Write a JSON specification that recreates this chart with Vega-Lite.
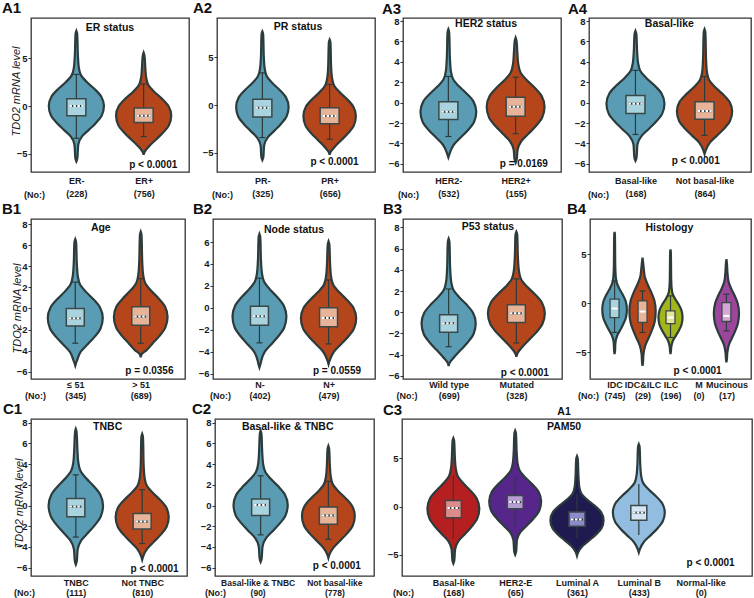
{
"$schema": "https://vega.github.io/schema/vega-lite/v6.json",
"padding": {"left": 1, "top": 0, "right": 0, "bottom": 0},
"datasets": {
"v": [
{"p":"A1","g":1,"y":-5.8,"lo":1,"hi":1},{"p":"A1","g":1,"y":-5.5,"lo":0.986,"hi":1.014},{"p":"A1","g":1,"y":-4,"lo":0.971,"hi":1.029},{"p":"A1","g":1,"y":-3.2,"lo":0.918,"hi":1.082},{"p":"A1","g":1,"y":-2.5,"lo":0.815,"hi":1.185},{"p":"A1","g":1,"y":-1.8,"lo":0.713,"hi":1.287},{"p":"A1","g":1,"y":-1,"lo":0.623,"hi":1.377},{"p":"A1","g":1,"y":0,"lo":0.59,"hi":1.41},{"p":"A1","g":1,"y":1,"lo":0.631,"hi":1.369},{"p":"A1","g":1,"y":1.8,"lo":0.733,"hi":1.267},{"p":"A1","g":1,"y":2.5,"lo":0.844,"hi":1.156},{"p":"A1","g":1,"y":3.2,"lo":0.93,"hi":1.07},{"p":"A1","g":1,"y":4,"lo":0.963,"hi":1.037},{"p":"A1","g":1,"y":5,"lo":0.975,"hi":1.025},{"p":"A1","g":1,"y":7.56,"lo":0.988,"hi":1.012},{"p":"A1","g":1,"y":7.86,"lo":1,"hi":1},
{"p":"A1","g":2,"y":-5.1,"lo":2,"hi":2},{"p":"A1","g":2,"y":-4.8,"lo":1.986,"hi":2.014},{"p":"A1","g":2,"y":-4.2,"lo":1.918,"hi":2.082},{"p":"A1","g":2,"y":-3.5,"lo":1.815,"hi":2.185},{"p":"A1","g":2,"y":-2.8,"lo":1.713,"hi":2.287},{"p":"A1","g":2,"y":-2,"lo":1.623,"hi":2.377},{"p":"A1","g":2,"y":-1,"lo":1.59,"hi":2.41},{"p":"A1","g":2,"y":0,"lo":1.631,"hi":2.369},{"p":"A1","g":2,"y":0.8,"lo":1.733,"hi":2.267},{"p":"A1","g":2,"y":1.5,"lo":1.844,"hi":2.156},{"p":"A1","g":2,"y":2.2,"lo":1.93,"hi":2.07},{"p":"A1","g":2,"y":3,"lo":1.963,"hi":2.037},{"p":"A1","g":2,"y":4,"lo":1.975,"hi":2.025},{"p":"A1","g":2,"y":5.28,"lo":1.988,"hi":2.012},{"p":"A1","g":2,"y":5.58,"lo":2,"hi":2},
{"p":"A2","g":1,"y":-5.76,"lo":1,"hi":1},{"p":"A2","g":1,"y":-5.46,"lo":0.986,"hi":1.014},{"p":"A2","g":1,"y":-4.2,"lo":0.973,"hi":1.027},{"p":"A2","g":1,"y":-3.4,"lo":0.922,"hi":1.078},{"p":"A2","g":1,"y":-2.7,"lo":0.824,"hi":1.176},{"p":"A2","g":1,"y":-2,"lo":0.727,"hi":1.273},{"p":"A2","g":1,"y":-1.2,"lo":0.641,"hi":1.359},{"p":"A2","g":1,"y":-0.2,"lo":0.61,"hi":1.39},{"p":"A2","g":1,"y":0.8,"lo":0.649,"hi":1.351},{"p":"A2","g":1,"y":1.6,"lo":0.746,"hi":1.254},{"p":"A2","g":1,"y":2.3,"lo":0.852,"hi":1.148},{"p":"A2","g":1,"y":3,"lo":0.934,"hi":1.066},{"p":"A2","g":1,"y":3.8,"lo":0.965,"hi":1.035},{"p":"A2","g":1,"y":4.8,"lo":0.977,"hi":1.023},{"p":"A2","g":1,"y":7.4,"lo":0.988,"hi":1.012},{"p":"A2","g":1,"y":7.7,"lo":1,"hi":1},
{"p":"A2","g":2,"y":-5.2,"lo":2,"hi":2},{"p":"A2","g":2,"y":-4.9,"lo":1.986,"hi":2.014},{"p":"A2","g":2,"y":-4.35,"lo":1.922,"hi":2.078},{"p":"A2","g":2,"y":-3.65,"lo":1.824,"hi":2.176},{"p":"A2","g":2,"y":-2.95,"lo":1.727,"hi":2.273},{"p":"A2","g":2,"y":-2.15,"lo":1.641,"hi":2.359},{"p":"A2","g":2,"y":-1.15,"lo":1.61,"hi":2.39},{"p":"A2","g":2,"y":-0.15,"lo":1.649,"hi":2.351},{"p":"A2","g":2,"y":0.65,"lo":1.746,"hi":2.254},{"p":"A2","g":2,"y":1.35,"lo":1.852,"hi":2.148},{"p":"A2","g":2,"y":2.05,"lo":1.934,"hi":2.066},{"p":"A2","g":2,"y":2.85,"lo":1.965,"hi":2.035},{"p":"A2","g":2,"y":3.85,"lo":1.977,"hi":2.023},{"p":"A2","g":2,"y":6.54,"lo":1.988,"hi":2.012},{"p":"A2","g":2,"y":6.84,"lo":2,"hi":2},
{"p":"A3","g":1,"y":-5.37,"lo":1,"hi":1},{"p":"A3","g":1,"y":-5.07,"lo":0.985,"hi":1.015},{"p":"A3","g":1,"y":-4.1,"lo":0.917,"hi":1.083},{"p":"A3","g":1,"y":-3.4,"lo":0.813,"hi":1.187},{"p":"A3","g":1,"y":-2.7,"lo":0.71,"hi":1.29},{"p":"A3","g":1,"y":-1.9,"lo":0.618,"hi":1.382},{"p":"A3","g":1,"y":-0.9,"lo":0.585,"hi":1.415},{"p":"A3","g":1,"y":0.1,"lo":0.626,"hi":1.374},{"p":"A3","g":1,"y":0.9,"lo":0.73,"hi":1.27},{"p":"A3","g":1,"y":1.6,"lo":0.842,"hi":1.158},{"p":"A3","g":1,"y":2.3,"lo":0.929,"hi":1.071},{"p":"A3","g":1,"y":3.1,"lo":0.963,"hi":1.037},{"p":"A3","g":1,"y":4.1,"lo":0.975,"hi":1.025},{"p":"A3","g":1,"y":6.9,"lo":0.988,"hi":1.012},{"p":"A3","g":1,"y":7.2,"lo":1,"hi":1},
{"p":"A3","g":2,"y":-5.9,"lo":2,"hi":2},{"p":"A3","g":2,"y":-5.6,"lo":1.985,"hi":2.015},{"p":"A3","g":2,"y":-4.6,"lo":1.97,"hi":2.03},{"p":"A3","g":2,"y":-3.76,"lo":1.914,"hi":2.086},{"p":"A3","g":2,"y":-3.03,"lo":1.806,"hi":2.194},{"p":"A3","g":2,"y":-2.29,"lo":1.699,"hi":2.301},{"p":"A3","g":2,"y":-1.45,"lo":1.604,"hi":2.396},{"p":"A3","g":2,"y":-0.4,"lo":1.57,"hi":2.43},{"p":"A3","g":2,"y":0.65,"lo":1.613,"hi":2.387},{"p":"A3","g":2,"y":1.49,"lo":1.72,"hi":2.28},{"p":"A3","g":2,"y":2.23,"lo":1.837,"hi":2.163},{"p":"A3","g":2,"y":2.96,"lo":1.927,"hi":2.073},{"p":"A3","g":2,"y":3.8,"lo":1.961,"hi":2.039},{"p":"A3","g":2,"y":4.85,"lo":1.974,"hi":2.026},{"p":"A3","g":2,"y":6.08,"lo":1.987,"hi":2.013},{"p":"A3","g":2,"y":6.38,"lo":2,"hi":2},
{"p":"A4","g":1,"y":-5.7,"lo":1,"hi":1},{"p":"A4","g":1,"y":-5.4,"lo":0.985,"hi":1.015},{"p":"A4","g":1,"y":-4.1,"lo":0.971,"hi":1.029},{"p":"A4","g":1,"y":-3.3,"lo":0.916,"hi":1.084},{"p":"A4","g":1,"y":-2.6,"lo":0.811,"hi":1.189},{"p":"A4","g":1,"y":-1.9,"lo":0.706,"hi":1.294},{"p":"A4","g":1,"y":-1.1,"lo":0.614,"hi":1.386},{"p":"A4","g":1,"y":-0.1,"lo":0.58,"hi":1.42},{"p":"A4","g":1,"y":0.9,"lo":0.622,"hi":1.378},{"p":"A4","g":1,"y":1.7,"lo":0.727,"hi":1.273},{"p":"A4","g":1,"y":2.4,"lo":0.84,"hi":1.16},{"p":"A4","g":1,"y":3.1,"lo":0.929,"hi":1.071},{"p":"A4","g":1,"y":3.9,"lo":0.962,"hi":1.038},{"p":"A4","g":1,"y":4.9,"lo":0.975,"hi":1.025},{"p":"A4","g":1,"y":6.74,"lo":0.987,"hi":1.013},{"p":"A4","g":1,"y":7.04,"lo":1,"hi":1},
{"p":"A4","g":2,"y":-5.04,"lo":2,"hi":2},{"p":"A4","g":2,"y":-4.74,"lo":1.986,"hi":2.014},{"p":"A4","g":2,"y":-3.89,"lo":1.92,"hi":2.08},{"p":"A4","g":2,"y":-3.23,"lo":1.82,"hi":2.18},{"p":"A4","g":2,"y":-2.56,"lo":1.72,"hi":2.28},{"p":"A4","g":2,"y":-1.8,"lo":1.632,"hi":2.368},{"p":"A4","g":2,"y":-0.85,"lo":1.6,"hi":2.4},{"p":"A4","g":2,"y":0.1,"lo":1.64,"hi":2.36},{"p":"A4","g":2,"y":0.86,"lo":1.74,"hi":2.26},{"p":"A4","g":2,"y":1.53,"lo":1.848,"hi":2.152},{"p":"A4","g":2,"y":2.19,"lo":1.932,"hi":2.068},{"p":"A4","g":2,"y":2.95,"lo":1.964,"hi":2.036},{"p":"A4","g":2,"y":3.9,"lo":1.976,"hi":2.024},{"p":"A4","g":2,"y":6.9,"lo":1.988,"hi":2.012},{"p":"A4","g":2,"y":7.2,"lo":2,"hi":2},
{"p":"B1","g":1,"y":-5.43,"lo":1,"hi":1},{"p":"B1","g":1,"y":-5.13,"lo":0.985,"hi":1.015},{"p":"B1","g":1,"y":-4.9,"lo":0.971,"hi":1.029},{"p":"B1","g":1,"y":-4.1,"lo":0.916,"hi":1.084},{"p":"B1","g":1,"y":-3.4,"lo":0.811,"hi":1.189},{"p":"B1","g":1,"y":-2.7,"lo":0.706,"hi":1.294},{"p":"B1","g":1,"y":-1.9,"lo":0.614,"hi":1.386},{"p":"B1","g":1,"y":-0.9,"lo":0.58,"hi":1.42},{"p":"B1","g":1,"y":0.1,"lo":0.622,"hi":1.378},{"p":"B1","g":1,"y":0.9,"lo":0.727,"hi":1.273},{"p":"B1","g":1,"y":1.6,"lo":0.84,"hi":1.16},{"p":"B1","g":1,"y":2.3,"lo":0.929,"hi":1.071},{"p":"B1","g":1,"y":3.1,"lo":0.962,"hi":1.038},{"p":"B1","g":1,"y":4.1,"lo":0.975,"hi":1.025},{"p":"B1","g":1,"y":6.28,"lo":0.987,"hi":1.013},{"p":"B1","g":1,"y":6.58,"lo":1,"hi":1},
{"p":"B1","g":2,"y":-4.64,"lo":2,"hi":2},{"p":"B1","g":2,"y":-4.34,"lo":1.986,"hi":2.014},{"p":"B1","g":2,"y":-4,"lo":1.918,"hi":2.082},{"p":"B1","g":2,"y":-3.3,"lo":1.815,"hi":2.185},{"p":"B1","g":2,"y":-2.6,"lo":1.713,"hi":2.287},{"p":"B1","g":2,"y":-1.8,"lo":1.623,"hi":2.377},{"p":"B1","g":2,"y":-0.8,"lo":1.59,"hi":2.41},{"p":"B1","g":2,"y":0.2,"lo":1.631,"hi":2.369},{"p":"B1","g":2,"y":1,"lo":1.733,"hi":2.267},{"p":"B1","g":2,"y":1.7,"lo":1.844,"hi":2.156},{"p":"B1","g":2,"y":2.4,"lo":1.93,"hi":2.07},{"p":"B1","g":2,"y":3.2,"lo":1.963,"hi":2.037},{"p":"B1","g":2,"y":4.2,"lo":1.975,"hi":2.025},{"p":"B1","g":2,"y":7,"lo":1.988,"hi":2.012},{"p":"B1","g":2,"y":7.3,"lo":2,"hi":2},
{"p":"B2","g":1,"y":-5.45,"lo":1,"hi":1},{"p":"B2","g":1,"y":-5.15,"lo":0.986,"hi":1.014},{"p":"B2","g":1,"y":-4.8,"lo":0.973,"hi":1.027},{"p":"B2","g":1,"y":-4,"lo":0.922,"hi":1.078},{"p":"B2","g":1,"y":-3.3,"lo":0.824,"hi":1.176},{"p":"B2","g":1,"y":-2.6,"lo":0.727,"hi":1.273},{"p":"B2","g":1,"y":-1.8,"lo":0.641,"hi":1.359},{"p":"B2","g":1,"y":-0.8,"lo":0.61,"hi":1.39},{"p":"B2","g":1,"y":0.2,"lo":0.649,"hi":1.351},{"p":"B2","g":1,"y":1,"lo":0.746,"hi":1.254},{"p":"B2","g":1,"y":1.7,"lo":0.852,"hi":1.148},{"p":"B2","g":1,"y":2.4,"lo":0.934,"hi":1.066},{"p":"B2","g":1,"y":3.2,"lo":0.965,"hi":1.035},{"p":"B2","g":1,"y":4.2,"lo":0.977,"hi":1.023},{"p":"B2","g":1,"y":6.45,"lo":0.988,"hi":1.012},{"p":"B2","g":1,"y":6.75,"lo":1,"hi":1},
{"p":"B2","g":2,"y":-5.15,"lo":2,"hi":2},{"p":"B2","g":2,"y":-4.85,"lo":1.986,"hi":2.014},{"p":"B2","g":2,"y":-3.99,"lo":1.92,"hi":2.08},{"p":"B2","g":2,"y":-3.33,"lo":1.82,"hi":2.18},{"p":"B2","g":2,"y":-2.66,"lo":1.72,"hi":2.28},{"p":"B2","g":2,"y":-1.9,"lo":1.632,"hi":2.368},{"p":"B2","g":2,"y":-0.95,"lo":1.6,"hi":2.4},{"p":"B2","g":2,"y":0,"lo":1.64,"hi":2.36},{"p":"B2","g":2,"y":0.76,"lo":1.74,"hi":2.26},{"p":"B2","g":2,"y":1.43,"lo":1.848,"hi":2.152},{"p":"B2","g":2,"y":2.09,"lo":1.932,"hi":2.068},{"p":"B2","g":2,"y":2.85,"lo":1.964,"hi":2.036},{"p":"B2","g":2,"y":3.8,"lo":1.976,"hi":2.024},{"p":"B2","g":2,"y":5.77,"lo":1.988,"hi":2.012},{"p":"B2","g":2,"y":6.07,"lo":2,"hi":2},
{"p":"B3","g":1,"y":-5.08,"lo":1,"hi":1},{"p":"B3","g":1,"y":-4.78,"lo":0.986,"hi":1.014},{"p":"B3","g":1,"y":-4.25,"lo":0.92,"hi":1.08},{"p":"B3","g":1,"y":-3.55,"lo":0.82,"hi":1.18},{"p":"B3","g":1,"y":-2.85,"lo":0.72,"hi":1.28},{"p":"B3","g":1,"y":-2.05,"lo":0.632,"hi":1.368},{"p":"B3","g":1,"y":-1.05,"lo":0.6,"hi":1.4},{"p":"B3","g":1,"y":-0.05,"lo":0.64,"hi":1.36},{"p":"B3","g":1,"y":0.75,"lo":0.74,"hi":1.26},{"p":"B3","g":1,"y":1.45,"lo":0.848,"hi":1.152},{"p":"B3","g":1,"y":2.15,"lo":0.932,"hi":1.068},{"p":"B3","g":1,"y":2.95,"lo":0.964,"hi":1.036},{"p":"B3","g":1,"y":3.95,"lo":0.976,"hi":1.024},{"p":"B3","g":1,"y":6.65,"lo":0.988,"hi":1.012},{"p":"B3","g":1,"y":6.95,"lo":1,"hi":1},
{"p":"B3","g":2,"y":-4.2,"lo":2,"hi":2},{"p":"B3","g":2,"y":-3.9,"lo":1.985,"hi":2.015},{"p":"B3","g":2,"y":-3.3,"lo":1.916,"hi":2.084},{"p":"B3","g":2,"y":-2.6,"lo":1.811,"hi":2.189},{"p":"B3","g":2,"y":-1.9,"lo":1.706,"hi":2.294},{"p":"B3","g":2,"y":-1.1,"lo":1.614,"hi":2.386},{"p":"B3","g":2,"y":-0.1,"lo":1.58,"hi":2.42},{"p":"B3","g":2,"y":0.9,"lo":1.622,"hi":2.378},{"p":"B3","g":2,"y":1.7,"lo":1.727,"hi":2.273},{"p":"B3","g":2,"y":2.4,"lo":1.84,"hi":2.16},{"p":"B3","g":2,"y":3.1,"lo":1.929,"hi":2.071},{"p":"B3","g":2,"y":3.9,"lo":1.962,"hi":2.038},{"p":"B3","g":2,"y":4.9,"lo":1.975,"hi":2.025},{"p":"B3","g":2,"y":7.3,"lo":1.987,"hi":2.013},{"p":"B3","g":2,"y":7.6,"lo":2,"hi":2},
{"p":"B4","g":1,"y":-5.17,"lo":1,"hi":1},{"p":"B4","g":1,"y":-4.87,"lo":0.985,"hi":1.015},{"p":"B4","g":1,"y":-4,"lo":0.969,"hi":1.031},{"p":"B4","g":1,"y":-3.32,"lo":0.912,"hi":1.088},{"p":"B4","g":1,"y":-2.73,"lo":0.802,"hi":1.198},{"p":"B4","g":1,"y":-2.13,"lo":0.692,"hi":1.308},{"p":"B4","g":1,"y":-1.45,"lo":0.595,"hi":1.405},{"p":"B4","g":1,"y":-0.6,"lo":0.56,"hi":1.44},{"p":"B4","g":1,"y":0.25,"lo":0.604,"hi":1.396},{"p":"B4","g":1,"y":0.93,"lo":0.714,"hi":1.286},{"p":"B4","g":1,"y":1.53,"lo":0.833,"hi":1.167},{"p":"B4","g":1,"y":2.12,"lo":0.925,"hi":1.075},{"p":"B4","g":1,"y":2.8,"lo":0.96,"hi":1.04},{"p":"B4","g":1,"y":3.65,"lo":0.974,"hi":1.026},{"p":"B4","g":1,"y":6.97,"lo":0.987,"hi":1.013},{"p":"B4","g":1,"y":7.27,"lo":1,"hi":1},
{"p":"B4","g":2,"y":-6.35,"lo":2,"hi":2},{"p":"B4","g":2,"y":-6.05,"lo":1.984,"hi":2.016},{"p":"B4","g":2,"y":-5.2,"lo":1.967,"hi":2.033},{"p":"B4","g":2,"y":-4.32,"lo":1.906,"hi":2.094},{"p":"B4","g":2,"y":-3.55,"lo":1.788,"hi":2.212},{"p":"B4","g":2,"y":-2.78,"lo":1.671,"hi":2.329},{"p":"B4","g":2,"y":-1.9,"lo":1.568,"hi":2.432},{"p":"B4","g":2,"y":-0.8,"lo":1.53,"hi":2.47},{"p":"B4","g":2,"y":0.3,"lo":1.577,"hi":2.423},{"p":"B4","g":2,"y":1.18,"lo":1.694,"hi":2.306},{"p":"B4","g":2,"y":1.95,"lo":1.821,"hi":2.179},{"p":"B4","g":2,"y":2.72,"lo":1.92,"hi":2.08},{"p":"B4","g":2,"y":3.6,"lo":1.958,"hi":2.042},{"p":"B4","g":2,"y":4.37,"lo":1.986,"hi":2.014},{"p":"B4","g":2,"y":4.67,"lo":2,"hi":2},
{"p":"B4","g":3,"y":-5.17,"lo":3,"hi":3},{"p":"B4","g":3,"y":-4.87,"lo":2.985,"hi":3.015},{"p":"B4","g":3,"y":-4.4,"lo":2.97,"hi":3.03},{"p":"B4","g":3,"y":-3.8,"lo":2.914,"hi":3.086},{"p":"B4","g":3,"y":-3.28,"lo":2.806,"hi":3.194},{"p":"B4","g":3,"y":-2.75,"lo":2.699,"hi":3.301},{"p":"B4","g":3,"y":-2.15,"lo":2.604,"hi":3.396},{"p":"B4","g":3,"y":-1.4,"lo":2.57,"hi":3.43},{"p":"B4","g":3,"y":-0.65,"lo":2.613,"hi":3.387},{"p":"B4","g":3,"y":-0.05,"lo":2.72,"hi":3.28},{"p":"B4","g":3,"y":0.48,"lo":2.837,"hi":3.163},{"p":"B4","g":3,"y":1,"lo":2.927,"hi":3.073},{"p":"B4","g":3,"y":1.6,"lo":2.961,"hi":3.039},{"p":"B4","g":3,"y":2.35,"lo":2.974,"hi":3.026},{"p":"B4","g":3,"y":5.2,"lo":2.987,"hi":3.013},{"p":"B4","g":3,"y":5.5,"lo":3,"hi":3},
{"p":"B4","g":5,"y":-6,"lo":5,"hi":5},{"p":"B4","g":5,"y":-5.7,"lo":4.984,"hi":5.016},{"p":"B4","g":5,"y":-5,"lo":4.968,"hi":5.032},{"p":"B4","g":5,"y":-4.2,"lo":4.91,"hi":5.09},{"p":"B4","g":5,"y":-3.5,"lo":4.797,"hi":5.203},{"p":"B4","g":5,"y":-2.8,"lo":4.685,"hi":5.315},{"p":"B4","g":5,"y":-2,"lo":4.586,"hi":5.414},{"p":"B4","g":5,"y":-1,"lo":4.55,"hi":5.45},{"p":"B4","g":5,"y":0,"lo":4.595,"hi":5.405},{"p":"B4","g":5,"y":0.8,"lo":4.707,"hi":5.293},{"p":"B4","g":5,"y":1.5,"lo":4.829,"hi":5.171},{"p":"B4","g":5,"y":2.2,"lo":4.923,"hi":5.077},{"p":"B4","g":5,"y":3,"lo":4.959,"hi":5.041},{"p":"B4","g":5,"y":4.2,"lo":4.986,"hi":5.014},{"p":"B4","g":5,"y":4.5,"lo":5,"hi":5},
{"p":"C1","g":1,"y":-5.69,"lo":1,"hi":1},{"p":"C1","g":1,"y":-5.39,"lo":0.986,"hi":1.014},{"p":"C1","g":1,"y":-4.2,"lo":0.971,"hi":1.029},{"p":"C1","g":1,"y":-3.36,"lo":0.918,"hi":1.082},{"p":"C1","g":1,"y":-2.63,"lo":0.815,"hi":1.185},{"p":"C1","g":1,"y":-1.89,"lo":0.713,"hi":1.287},{"p":"C1","g":1,"y":-1.05,"lo":0.623,"hi":1.377},{"p":"C1","g":1,"y":0,"lo":0.59,"hi":1.41},{"p":"C1","g":1,"y":1.05,"lo":0.631,"hi":1.369},{"p":"C1","g":1,"y":1.89,"lo":0.733,"hi":1.267},{"p":"C1","g":1,"y":2.63,"lo":0.844,"hi":1.156},{"p":"C1","g":1,"y":3.36,"lo":0.93,"hi":1.07},{"p":"C1","g":1,"y":4.2,"lo":0.963,"hi":1.037},{"p":"C1","g":1,"y":5.25,"lo":0.975,"hi":1.025},{"p":"C1","g":1,"y":7.09,"lo":0.988,"hi":1.012},{"p":"C1","g":1,"y":7.39,"lo":1,"hi":1},
{"p":"C1","g":2,"y":-5.22,"lo":2,"hi":2},{"p":"C1","g":2,"y":-4.92,"lo":1.986,"hi":2.014},{"p":"C1","g":2,"y":-4.14,"lo":1.92,"hi":2.08},{"p":"C1","g":2,"y":-3.48,"lo":1.82,"hi":2.18},{"p":"C1","g":2,"y":-2.81,"lo":1.72,"hi":2.28},{"p":"C1","g":2,"y":-2.05,"lo":1.632,"hi":2.368},{"p":"C1","g":2,"y":-1.1,"lo":1.6,"hi":2.4},{"p":"C1","g":2,"y":-0.15,"lo":1.64,"hi":2.36},{"p":"C1","g":2,"y":0.61,"lo":1.74,"hi":2.26},{"p":"C1","g":2,"y":1.28,"lo":1.848,"hi":2.152},{"p":"C1","g":2,"y":1.94,"lo":1.932,"hi":2.068},{"p":"C1","g":2,"y":2.7,"lo":1.964,"hi":2.036},{"p":"C1","g":2,"y":3.65,"lo":1.976,"hi":2.024},{"p":"C1","g":2,"y":6.62,"lo":1.988,"hi":2.012},{"p":"C1","g":2,"y":6.92,"lo":2,"hi":2},
{"p":"C2","g":1,"y":-5.44,"lo":1,"hi":1},{"p":"C2","g":1,"y":-5.14,"lo":0.986,"hi":1.014},{"p":"C2","g":1,"y":-3.95,"lo":0.972,"hi":1.028},{"p":"C2","g":1,"y":-3.15,"lo":0.92,"hi":1.08},{"p":"C2","g":1,"y":-2.45,"lo":0.82,"hi":1.18},{"p":"C2","g":1,"y":-1.75,"lo":0.72,"hi":1.28},{"p":"C2","g":1,"y":-0.95,"lo":0.632,"hi":1.368},{"p":"C2","g":1,"y":0.05,"lo":0.6,"hi":1.4},{"p":"C2","g":1,"y":1.05,"lo":0.64,"hi":1.36},{"p":"C2","g":1,"y":1.85,"lo":0.74,"hi":1.26},{"p":"C2","g":1,"y":2.55,"lo":0.848,"hi":1.152},{"p":"C2","g":1,"y":3.25,"lo":0.932,"hi":1.068},{"p":"C2","g":1,"y":4.05,"lo":0.964,"hi":1.036},{"p":"C2","g":1,"y":5.05,"lo":0.976,"hi":1.024},{"p":"C2","g":1,"y":6.93,"lo":0.988,"hi":1.012},{"p":"C2","g":1,"y":7.23,"lo":1,"hi":1},
{"p":"C2","g":2,"y":-5.07,"lo":2,"hi":2},{"p":"C2","g":2,"y":-4.77,"lo":1.986,"hi":2.014},{"p":"C2","g":2,"y":-4.04,"lo":1.922,"hi":2.078},{"p":"C2","g":2,"y":-3.38,"lo":1.824,"hi":2.176},{"p":"C2","g":2,"y":-2.71,"lo":1.727,"hi":2.273},{"p":"C2","g":2,"y":-1.95,"lo":1.641,"hi":2.359},{"p":"C2","g":2,"y":-1,"lo":1.61,"hi":2.39},{"p":"C2","g":2,"y":-0.05,"lo":1.649,"hi":2.351},{"p":"C2","g":2,"y":0.71,"lo":1.746,"hi":2.254},{"p":"C2","g":2,"y":1.38,"lo":1.852,"hi":2.148},{"p":"C2","g":2,"y":2.04,"lo":1.934,"hi":2.066},{"p":"C2","g":2,"y":2.8,"lo":1.965,"hi":2.035},{"p":"C2","g":2,"y":3.75,"lo":1.977,"hi":2.023},{"p":"C2","g":2,"y":5.46,"lo":1.988,"hi":2.012},{"p":"C2","g":2,"y":5.76,"lo":2,"hi":2},
{"p":"C3","g":1,"y":-5.9,"lo":1,"hi":1},{"p":"C3","g":1,"y":-5.6,"lo":0.985,"hi":1.015},{"p":"C3","g":1,"y":-4.4,"lo":0.971,"hi":1.029},{"p":"C3","g":1,"y":-3.56,"lo":0.916,"hi":1.084},{"p":"C3","g":1,"y":-2.83,"lo":0.811,"hi":1.189},{"p":"C3","g":1,"y":-2.09,"lo":0.706,"hi":1.294},{"p":"C3","g":1,"y":-1.25,"lo":0.614,"hi":1.386},{"p":"C3","g":1,"y":-0.2,"lo":0.58,"hi":1.42},{"p":"C3","g":1,"y":0.85,"lo":0.622,"hi":1.378},{"p":"C3","g":1,"y":1.69,"lo":0.727,"hi":1.273},{"p":"C3","g":1,"y":2.43,"lo":0.84,"hi":1.16},{"p":"C3","g":1,"y":3.16,"lo":0.929,"hi":1.071},{"p":"C3","g":1,"y":4,"lo":0.962,"hi":1.038},{"p":"C3","g":1,"y":5.05,"lo":0.975,"hi":1.025},{"p":"C3","g":1,"y":6.82,"lo":0.987,"hi":1.013},{"p":"C3","g":1,"y":7.12,"lo":1,"hi":1},
{"p":"C3","g":2,"y":-5,"lo":2,"hi":2},{"p":"C3","g":2,"y":-4.7,"lo":1.985,"hi":2.015},{"p":"C3","g":2,"y":-3.45,"lo":1.971,"hi":2.029},{"p":"C3","g":2,"y":-2.65,"lo":1.916,"hi":2.084},{"p":"C3","g":2,"y":-1.95,"lo":1.811,"hi":2.189},{"p":"C3","g":2,"y":-1.25,"lo":1.706,"hi":2.294},{"p":"C3","g":2,"y":-0.45,"lo":1.614,"hi":2.386},{"p":"C3","g":2,"y":0.55,"lo":1.58,"hi":2.42},{"p":"C3","g":2,"y":1.55,"lo":1.622,"hi":2.378},{"p":"C3","g":2,"y":2.35,"lo":1.727,"hi":2.273},{"p":"C3","g":2,"y":3.05,"lo":1.84,"hi":2.16},{"p":"C3","g":2,"y":3.75,"lo":1.929,"hi":2.071},{"p":"C3","g":2,"y":4.55,"lo":1.962,"hi":2.038},{"p":"C3","g":2,"y":5.55,"lo":1.975,"hi":2.025},{"p":"C3","g":2,"y":7.6,"lo":1.987,"hi":2.013},{"p":"C3","g":2,"y":7.9,"lo":2,"hi":2},
{"p":"C3","g":3,"y":-5.1,"lo":3,"hi":3},{"p":"C3","g":3,"y":-4.8,"lo":2.985,"hi":3.015},{"p":"C3","g":3,"y":-4.12,"lo":2.914,"hi":3.086},{"p":"C3","g":3,"y":-3.53,"lo":2.806,"hi":3.194},{"p":"C3","g":3,"y":-2.93,"lo":2.699,"hi":3.301},{"p":"C3","g":3,"y":-2.25,"lo":2.604,"hi":3.396},{"p":"C3","g":3,"y":-1.4,"lo":2.57,"hi":3.43},{"p":"C3","g":3,"y":-0.55,"lo":2.613,"hi":3.387},{"p":"C3","g":3,"y":0.13,"lo":2.72,"hi":3.28},{"p":"C3","g":3,"y":0.73,"lo":2.837,"hi":3.163},{"p":"C3","g":3,"y":1.32,"lo":2.927,"hi":3.073},{"p":"C3","g":3,"y":2,"lo":2.961,"hi":3.039},{"p":"C3","g":3,"y":2.85,"lo":2.974,"hi":3.026},{"p":"C3","g":3,"y":4.94,"lo":2.987,"hi":3.013},{"p":"C3","g":3,"y":5.24,"lo":3,"hi":3},
{"p":"C3","g":4,"y":-4.75,"lo":4,"hi":4},{"p":"C3","g":4,"y":-4.45,"lo":3.985,"hi":4.015},{"p":"C3","g":4,"y":-3.64,"lo":3.916,"hi":4.084},{"p":"C3","g":4,"y":-2.98,"lo":3.811,"hi":4.189},{"p":"C3","g":4,"y":-2.31,"lo":3.706,"hi":4.294},{"p":"C3","g":4,"y":-1.55,"lo":3.614,"hi":4.386},{"p":"C3","g":4,"y":-0.6,"lo":3.58,"hi":4.42},{"p":"C3","g":4,"y":0.35,"lo":3.622,"hi":4.378},{"p":"C3","g":4,"y":1.11,"lo":3.727,"hi":4.273},{"p":"C3","g":4,"y":1.78,"lo":3.84,"hi":4.16},{"p":"C3","g":4,"y":2.44,"lo":3.929,"hi":4.071},{"p":"C3","g":4,"y":3.2,"lo":3.962,"hi":4.038},{"p":"C3","g":4,"y":4.15,"lo":3.975,"hi":4.025},{"p":"C3","g":4,"y":6.2,"lo":3.987,"hi":4.013},{"p":"C3","g":4,"y":6.5,"lo":4,"hi":4}
],
"b": [
{"p":"A1","g":1,"q1":-1.02,"med":0.0,"q3":0.77,"wl":-3.37,"wh":3.3},
{"p":"A1","g":2,"q1":-1.72,"med":-1.02,"q3":-0.2,"wl":-3.2,"wh":2.3},
{"p":"A2","g":1,"q1":-1.25,"med":-0.28,"q3":0.6,"wl":-3.4,"wh":3.37},
{"p":"A2","g":2,"q1":-1.95,"med":-1.15,"q3":-0.28,"wl":-3.57,"wh":2.15},
{"p":"A3","g":1,"q1":-1.66,"med":-0.9,"q3":0.09,"wl":-3.32,"wh":2.57},
{"p":"A3","g":2,"q1":-1.33,"med":-0.4,"q3":0.52,"wl":-3.05,"wh":2.5},
{"p":"A4","g":1,"q1":-1.06,"med":-0.1,"q3":0.69,"wl":-3.12,"wh":3.17},
{"p":"A4","g":2,"q1":-1.63,"med":-0.83,"q3":0.09,"wl":-3.2,"wh":2.57},
{"p":"B1","g":1,"q1":-1.66,"med":-0.93,"q3":0.0,"wl":-3.3,"wh":2.5},
{"p":"B1","g":2,"q1":-1.6,"med":-0.77,"q3":0.17,"wl":-3.3,"wh":2.84},
{"p":"B2","g":1,"q1":-1.6,"med":-0.78,"q3":0.13,"wl":-3.2,"wh":2.7},
{"p":"B2","g":2,"q1":-1.74,"med":-0.93,"q3":0.0,"wl":-3.3,"wh":2.54},
{"p":"B3","g":1,"q1":-1.88,"med":-1.03,"q3":-0.24,"wl":-3.25,"wh":2.2},
{"p":"B3","g":2,"q1":-0.97,"med":-0.1,"q3":0.71,"wl":-2.9,"wh":3.15},
{"p":"B4","g":1,"q1":-1.44,"med":-0.52,"q3":0.43,"wl":-2.96,"wh":2.3},
{"p":"B4","g":2,"q1":-1.94,"med":-0.83,"q3":0.25,"wl":-2.96,"wh":1.27},
{"p":"B4","g":3,"q1":-2.05,"med":-1.44,"q3":-0.76,"wl":-3.47,"wh":0.77},
{"p":"B4","g":5,"q1":-1.84,"med":-1.27,"q3":0.09,"wl":-2.8,"wh":0.94},
{"p":"C1","g":1,"q1":-1.08,"med":-0.1,"q3":0.69,"wl":-3.04,"wh":2.96},
{"p":"C1","g":2,"q1":-2.27,"med":-1.55,"q3":-0.77,"wl":-3.67,"wh":1.53},
{"p":"C2","g":1,"q1":-0.96,"med":0.06,"q3":0.63,"wl":-2.83,"wh":2.87},
{"p":"C2","g":2,"q1":-1.8,"med":-0.96,"q3":-0.15,"wl":-3.26,"wh":2.34},
{"p":"C3","g":1,"q1":-1.14,"med":-0.15,"q3":0.64,"wl":-3.3,"wh":3.2},
{"p":"C3","g":2,"q1":-0.21,"med":0.47,"q3":1.15,"wl":-2.03,"wh":3.03},
{"p":"C3","g":3,"q1":-2.03,"med":-1.34,"q3":-0.55,"wl":-3.3,"wh":1.32},
{"p":"C3","g":4,"q1":-1.41,"med":-0.62,"q3":0.12,"wl":-2.95,"wh":2.34}
]
},
"spacing": -1,
"resolve": {"scale": {"fill": "independent"}},
"vconcat": [
{"spacing": 0, "resolve": {"scale": {"fill": "independent"}}, "vconcat": [
{"bounds": "flush", "spacing": 28, "resolve": {"scale": {"fill": "independent"}}, "hconcat": [
{"width": 158, "height": 154, "title": {"text": "A1", "dx": -29}, "resolve": {"scale": {"fill": "independent"}}, "layer": [
{"data": {"name": "v"}, "transform": [{"filter": "datum.p=='A1'"}], "mark": {"type": "area", "orient": "horizontal", "interpolate": "monotone", "stroke": "#2c3b3b", "strokeWidth": 2.2},
 "encoding": {"y": {"field": "y", "type": "quantitative", "scale": {"domain": [-6.9, 9.2], "nice": false, "zero": false}, "axis": {"values": [-5, 0, 5], "tickCount": 20, "labelOverlap": false, "title": "TDO2 mRNA level", "titleX": -15, "titleY": 73, "titleBaseline": "middle"}},
  "x": {"field": "lo", "type": "quantitative", "scale": {"domain": [0.4, 2.6], "nice": false, "zero": false}, "axis": {"values": [1, 2], "tickCount": 20, "labelExpr": "datum.value==1?['ER-','(228)']:datum.value==2?['ER+','(756)']:''", "title": "(No:)", "titleX": 3}},
  "x2": {"field": "hi"},
  "fill": {"field": "g", "type": "nominal", "scale": {"domain": [1, 2], "range": ["#5a9cb3", "#b5461c"]}, "legend": null}}},
{"data": {"name": "b"}, "transform": [{"filter": "datum.p=='A1'"}], "mark": {"type": "rule", "color": "#2c3b3b", "strokeWidth": 1.2}, "encoding": {"x": {"field": "g", "type": "quantitative"}, "y": {"field": "wl", "type": "quantitative"}, "y2": {"field": "wh"}}},
{"data": {"name": "b"}, "transform": [{"filter": "datum.p=='A1'"}], "mark": {"type": "point", "shape": "M-1,0L1,0", "size": 36, "stroke": "#2c3b3b", "strokeWidth": 1.2, "opacity": 1}, "encoding": {"x": {"field": "g", "type": "quantitative"}, "y": {"field": "wh", "type": "quantitative"}}},
{"data": {"name": "b"}, "transform": [{"filter": "datum.p=='A1'"}], "mark": {"type": "point", "shape": "M-1,0L1,0", "size": 36, "stroke": "#2c3b3b", "strokeWidth": 1.2, "opacity": 1}, "encoding": {"x": {"field": "g", "type": "quantitative"}, "y": {"field": "wl", "type": "quantitative"}}},
{"data": {"name": "b"}, "transform": [{"filter": "datum.p=='A1'"}], "mark": {"type": "bar", "size": 19, "stroke": "#3b4848", "strokeWidth": 1.5}, "encoding": {"x": {"field": "g", "type": "quantitative"}, "y": {"field": "q1", "type": "quantitative"}, "y2": {"field": "q3"}, "fill": {"field": "g", "type": "nominal", "scale": {"domain": [1, 2], "range": ["#a9d3de", "#e7b49a"]}, "legend": null}}},
{"data": {"name": "b"}, "transform": [{"filter": "datum.p=='A1'"}], "mark": {"type": "point", "shape": "M-1,0L1,0", "size": 196, "stroke": "#2c3b3b", "strokeWidth": 2, "opacity": 1}, "encoding": {"x": {"field": "g", "type": "quantitative"}, "y": {"field": "med", "type": "quantitative"}}},
{"data": {"name": "b"}, "transform": [{"filter": "datum.p=='A1'"}], "mark": {"type": "point", "shape": "M-1,0L1,0", "size": 196, "stroke": "white", "strokeWidth": 2, "strokeDash": [2.5, 1.5], "opacity": 1}, "encoding": {"x": {"field": "g", "type": "quantitative"}, "y": {"field": "med", "type": "quantitative"}}},
{"data": {"values": [{"t": "ER status"}]}, "mark": {"type": "text", "fontSize": 10.5, "fontWeight": "bold", "color": "#111"}, "encoding": {"text": {"field": "t"}, "x": {"datum": 1.5}, "y": {"datum": 8.2}}},
{"data": {"values": [{"t": "p < 0.0001"}]}, "mark": {"type": "text", "fontSize": 10, "fontWeight": "bold", "align": "right", "color": "#111"}, "encoding": {"text": {"field": "t"}, "x": {"datum": 2.5}, "y": {"datum": -6.2}}}
]},
{"width": 158, "height": 154, "title": {"text": "A2", "dx": -24}, "resolve": {"scale": {"fill": "independent"}}, "layer": [
{"data": {"name": "v"}, "transform": [{"filter": "datum.p=='A2'"}], "mark": {"type": "area", "orient": "horizontal", "interpolate": "monotone", "stroke": "#2c3b3b", "strokeWidth": 2.2},
 "encoding": {"y": {"field": "y", "type": "quantitative", "scale": {"domain": [-7.0, 9.1], "nice": false, "zero": false}, "axis": {"values": [-5, 0, 5], "tickCount": 20, "labelOverlap": false, "title": null}},
  "x": {"field": "lo", "type": "quantitative", "scale": {"domain": [0.4, 2.6], "nice": false, "zero": false}, "axis": {"values": [1, 2], "tickCount": 20, "labelExpr": "datum.value==1?['PR-','(325)']:datum.value==2?['PR+','(656)']:''", "title": "(No:)", "titleX": 5}},
  "x2": {"field": "hi"},
  "fill": {"field": "g", "type": "nominal", "scale": {"domain": [1, 2], "range": ["#5a9cb3", "#b5461c"]}, "legend": null}}},
{"data": {"name": "b"}, "transform": [{"filter": "datum.p=='A2'"}], "mark": {"type": "rule", "color": "#2c3b3b", "strokeWidth": 1.2}, "encoding": {"x": {"field": "g", "type": "quantitative"}, "y": {"field": "wl", "type": "quantitative"}, "y2": {"field": "wh"}}},
{"data": {"name": "b"}, "transform": [{"filter": "datum.p=='A2'"}], "mark": {"type": "point", "shape": "M-1,0L1,0", "size": 36, "stroke": "#2c3b3b", "strokeWidth": 1.2, "opacity": 1}, "encoding": {"x": {"field": "g", "type": "quantitative"}, "y": {"field": "wh", "type": "quantitative"}}},
{"data": {"name": "b"}, "transform": [{"filter": "datum.p=='A2'"}], "mark": {"type": "point", "shape": "M-1,0L1,0", "size": 36, "stroke": "#2c3b3b", "strokeWidth": 1.2, "opacity": 1}, "encoding": {"x": {"field": "g", "type": "quantitative"}, "y": {"field": "wl", "type": "quantitative"}}},
{"data": {"name": "b"}, "transform": [{"filter": "datum.p=='A2'"}], "mark": {"type": "bar", "size": 19, "stroke": "#3b4848", "strokeWidth": 1.5}, "encoding": {"x": {"field": "g", "type": "quantitative"}, "y": {"field": "q1", "type": "quantitative"}, "y2": {"field": "q3"}, "fill": {"field": "g", "type": "nominal", "scale": {"domain": [1, 2], "range": ["#a9d3de", "#e7b49a"]}, "legend": null}}},
{"data": {"name": "b"}, "transform": [{"filter": "datum.p=='A2'"}], "mark": {"type": "point", "shape": "M-1,0L1,0", "size": 196, "stroke": "#2c3b3b", "strokeWidth": 2, "opacity": 1}, "encoding": {"x": {"field": "g", "type": "quantitative"}, "y": {"field": "med", "type": "quantitative"}}},
{"data": {"name": "b"}, "transform": [{"filter": "datum.p=='A2'"}], "mark": {"type": "point", "shape": "M-1,0L1,0", "size": 196, "stroke": "white", "strokeWidth": 2, "strokeDash": [2.5, 1.5], "opacity": 1}, "encoding": {"x": {"field": "g", "type": "quantitative"}, "y": {"field": "med", "type": "quantitative"}}},
{"data": {"values": [{"t": "PR status"}]}, "mark": {"type": "text", "fontSize": 10.5, "fontWeight": "bold", "color": "#111"}, "encoding": {"text": {"field": "t"}, "x": {"datum": 1.53}, "y": {"datum": 8.2}}},
{"data": {"values": [{"t": "p < 0.0001"}]}, "mark": {"type": "text", "fontSize": 10, "fontWeight": "bold", "align": "right", "color": "#111"}, "encoding": {"text": {"field": "t"}, "x": {"datum": 2.43}, "y": {"datum": -6.0}}}
]},
{"width": 158, "height": 154, "title": {"text": "A3", "dx": -21, "offset": -0.5}, "resolve": {"scale": {"fill": "independent"}}, "layer": [
{"data": {"name": "v"}, "transform": [{"filter": "datum.p=='A3'"}], "mark": {"type": "area", "orient": "horizontal", "interpolate": "monotone", "stroke": "#2c3b3b", "strokeWidth": 2.2},
 "encoding": {"y": {"field": "y", "type": "quantitative", "scale": {"domain": [-6.8, 8.3], "nice": false, "zero": false}, "axis": {"values": [-6, -4, -2, 0, 2, 4, 6, 8], "tickCount": 20, "labelOverlap": false, "title": null}},
  "x": {"field": "lo", "type": "quantitative", "scale": {"domain": [0.4, 2.6], "nice": false, "zero": false}, "axis": {"values": [1, 2], "tickCount": 20, "labelExpr": "datum.value==1?['HER2-','(532)']:datum.value==2?['HER2+','(155)']:''", "title": "(No:)", "titleX": 5}},
  "x2": {"field": "hi"},
  "fill": {"field": "g", "type": "nominal", "scale": {"domain": [1, 2], "range": ["#5a9cb3", "#b5461c"]}, "legend": null}}},
{"data": {"name": "b"}, "transform": [{"filter": "datum.p=='A3'"}], "mark": {"type": "rule", "color": "#2c3b3b", "strokeWidth": 1.2}, "encoding": {"x": {"field": "g", "type": "quantitative"}, "y": {"field": "wl", "type": "quantitative"}, "y2": {"field": "wh"}}},
{"data": {"name": "b"}, "transform": [{"filter": "datum.p=='A3'"}], "mark": {"type": "point", "shape": "M-1,0L1,0", "size": 36, "stroke": "#2c3b3b", "strokeWidth": 1.2, "opacity": 1}, "encoding": {"x": {"field": "g", "type": "quantitative"}, "y": {"field": "wh", "type": "quantitative"}}},
{"data": {"name": "b"}, "transform": [{"filter": "datum.p=='A3'"}], "mark": {"type": "point", "shape": "M-1,0L1,0", "size": 36, "stroke": "#2c3b3b", "strokeWidth": 1.2, "opacity": 1}, "encoding": {"x": {"field": "g", "type": "quantitative"}, "y": {"field": "wl", "type": "quantitative"}}},
{"data": {"name": "b"}, "transform": [{"filter": "datum.p=='A3'"}], "mark": {"type": "bar", "size": 19, "stroke": "#3b4848", "strokeWidth": 1.5}, "encoding": {"x": {"field": "g", "type": "quantitative"}, "y": {"field": "q1", "type": "quantitative"}, "y2": {"field": "q3"}, "fill": {"field": "g", "type": "nominal", "scale": {"domain": [1, 2], "range": ["#a9d3de", "#e7b49a"]}, "legend": null}}},
{"data": {"name": "b"}, "transform": [{"filter": "datum.p=='A3'"}], "mark": {"type": "point", "shape": "M-1,0L1,0", "size": 196, "stroke": "#2c3b3b", "strokeWidth": 2, "opacity": 1}, "encoding": {"x": {"field": "g", "type": "quantitative"}, "y": {"field": "med", "type": "quantitative"}}},
{"data": {"name": "b"}, "transform": [{"filter": "datum.p=='A3'"}], "mark": {"type": "point", "shape": "M-1,0L1,0", "size": 196, "stroke": "white", "strokeWidth": 2, "strokeDash": [2.5, 1.5], "opacity": 1}, "encoding": {"x": {"field": "g", "type": "quantitative"}, "y": {"field": "med", "type": "quantitative"}}},
{"data": {"values": [{"t": "HER2 status"}]}, "mark": {"type": "text", "fontSize": 10.5, "fontWeight": "bold", "color": "#111"}, "encoding": {"text": {"field": "t"}, "x": {"datum": 1.56}, "y": {"datum": 7.7}}},
{"data": {"values": [{"t": "p = 0.0169"}]}, "mark": {"type": "text", "fontSize": 10, "fontWeight": "bold", "align": "right", "color": "#111"}, "encoding": {"text": {"field": "t"}, "x": {"datum": 2.48}, "y": {"datum": -6.03}}}
]},
{"width": 162, "height": 154, "title": {"text": "A4", "dx": -21, "offset": -0.5}, "resolve": {"scale": {"fill": "independent"}}, "layer": [
{"data": {"name": "v"}, "transform": [{"filter": "datum.p=='A4'"}], "mark": {"type": "area", "orient": "horizontal", "interpolate": "monotone", "stroke": "#2c3b3b", "strokeWidth": 2.2},
 "encoding": {"y": {"field": "y", "type": "quantitative", "scale": {"domain": [-6.8, 8.3], "nice": false, "zero": false}, "axis": {"values": [-6, -4, -2, 0, 2, 4, 6, 8], "tickCount": 20, "labelOverlap": false, "title": null}},
  "x": {"field": "lo", "type": "quantitative", "scale": {"domain": [0.4, 2.6], "nice": false, "zero": false}, "axis": {"values": [1, 2], "tickCount": 20, "labelExpr": "datum.value==1?['Basal-like','(168)']:datum.value==2?['Not basal-like','(864)']:''", "title": "(No:)", "titleX": 9}},
  "x2": {"field": "hi"},
  "fill": {"field": "g", "type": "nominal", "scale": {"domain": [1, 2], "range": ["#5a9cb3", "#b5461c"]}, "legend": null}}},
{"data": {"name": "b"}, "transform": [{"filter": "datum.p=='A4'"}], "mark": {"type": "rule", "color": "#2c3b3b", "strokeWidth": 1.2}, "encoding": {"x": {"field": "g", "type": "quantitative"}, "y": {"field": "wl", "type": "quantitative"}, "y2": {"field": "wh"}}},
{"data": {"name": "b"}, "transform": [{"filter": "datum.p=='A4'"}], "mark": {"type": "point", "shape": "M-1,0L1,0", "size": 36, "stroke": "#2c3b3b", "strokeWidth": 1.2, "opacity": 1}, "encoding": {"x": {"field": "g", "type": "quantitative"}, "y": {"field": "wh", "type": "quantitative"}}},
{"data": {"name": "b"}, "transform": [{"filter": "datum.p=='A4'"}], "mark": {"type": "point", "shape": "M-1,0L1,0", "size": 36, "stroke": "#2c3b3b", "strokeWidth": 1.2, "opacity": 1}, "encoding": {"x": {"field": "g", "type": "quantitative"}, "y": {"field": "wl", "type": "quantitative"}}},
{"data": {"name": "b"}, "transform": [{"filter": "datum.p=='A4'"}], "mark": {"type": "bar", "size": 19, "stroke": "#3b4848", "strokeWidth": 1.5}, "encoding": {"x": {"field": "g", "type": "quantitative"}, "y": {"field": "q1", "type": "quantitative"}, "y2": {"field": "q3"}, "fill": {"field": "g", "type": "nominal", "scale": {"domain": [1, 2], "range": ["#a9d3de", "#e7b49a"]}, "legend": null}}},
{"data": {"name": "b"}, "transform": [{"filter": "datum.p=='A4'"}], "mark": {"type": "point", "shape": "M-1,0L1,0", "size": 196, "stroke": "#2c3b3b", "strokeWidth": 2, "opacity": 1}, "encoding": {"x": {"field": "g", "type": "quantitative"}, "y": {"field": "med", "type": "quantitative"}}},
{"data": {"name": "b"}, "transform": [{"filter": "datum.p=='A4'"}], "mark": {"type": "point", "shape": "M-1,0L1,0", "size": 196, "stroke": "white", "strokeWidth": 2, "strokeDash": [2.5, 1.5], "opacity": 1}, "encoding": {"x": {"field": "g", "type": "quantitative"}, "y": {"field": "med", "type": "quantitative"}}},
{"data": {"values": [{"t": "Basal-like"}]}, "mark": {"type": "text", "fontSize": 10.5, "fontWeight": "bold", "color": "#111"}, "encoding": {"text": {"field": "t"}, "x": {"datum": 1.49}, "y": {"datum": 7.7}}},
{"data": {"values": [{"t": "p < 0.0001"}]}, "mark": {"type": "text", "fontSize": 10, "fontWeight": "bold", "align": "right", "color": "#111"}, "encoding": {"text": {"field": "t"}, "x": {"datum": 2.22}, "y": {"datum": -5.7}}}
]}
]},
{"bounds": "flush", "spacing": 28, "resolve": {"scale": {"fill": "independent"}}, "hconcat": [
{"width": 154, "height": 160, "title": {"text": "B1", "dx": -29}, "resolve": {"scale": {"fill": "independent"}}, "layer": [
{"data": {"name": "v"}, "transform": [{"filter": "datum.p=='B1'"}], "mark": {"type": "area", "orient": "horizontal", "interpolate": "monotone", "stroke": "#2c3b3b", "strokeWidth": 2.2},
 "encoding": {"y": {"field": "y", "type": "quantitative", "scale": {"domain": [-6.7, 8.5], "nice": false, "zero": false}, "axis": {"values": [-6, -4, -2, 0, 2, 4, 6, 8], "tickCount": 20, "labelOverlap": false, "title": "TDO2 mRNA level", "titleX": -14, "titleY": 89, "titleBaseline": "middle"}},
  "x": {"field": "lo", "type": "quantitative", "scale": {"domain": [0.4, 2.6], "nice": false, "zero": false}, "axis": {"values": [1, 2], "tickCount": 20, "labelExpr": "datum.value==1?['≤ 51','(345)']:datum.value==2?['> 51','(689)']:''", "title": "(No:)", "titleX": 4, "labelPadding": 1, "labelLineHeight": 11, "titleY": 16.5}},
  "x2": {"field": "hi"},
  "fill": {"field": "g", "type": "nominal", "scale": {"domain": [1, 2], "range": ["#5a9cb3", "#b5461c"]}, "legend": null}}},
{"data": {"name": "b"}, "transform": [{"filter": "datum.p=='B1'"}], "mark": {"type": "rule", "color": "#2c3b3b", "strokeWidth": 1.2}, "encoding": {"x": {"field": "g", "type": "quantitative"}, "y": {"field": "wl", "type": "quantitative"}, "y2": {"field": "wh"}}},
{"data": {"name": "b"}, "transform": [{"filter": "datum.p=='B1'"}], "mark": {"type": "point", "shape": "M-1,0L1,0", "size": 36, "stroke": "#2c3b3b", "strokeWidth": 1.2, "opacity": 1}, "encoding": {"x": {"field": "g", "type": "quantitative"}, "y": {"field": "wh", "type": "quantitative"}}},
{"data": {"name": "b"}, "transform": [{"filter": "datum.p=='B1'"}], "mark": {"type": "point", "shape": "M-1,0L1,0", "size": 36, "stroke": "#2c3b3b", "strokeWidth": 1.2, "opacity": 1}, "encoding": {"x": {"field": "g", "type": "quantitative"}, "y": {"field": "wl", "type": "quantitative"}}},
{"data": {"name": "b"}, "transform": [{"filter": "datum.p=='B1'"}], "mark": {"type": "bar", "size": 18, "stroke": "#3b4848", "strokeWidth": 1.5}, "encoding": {"x": {"field": "g", "type": "quantitative"}, "y": {"field": "q1", "type": "quantitative"}, "y2": {"field": "q3"}, "fill": {"field": "g", "type": "nominal", "scale": {"domain": [1, 2], "range": ["#a9d3de", "#e7b49a"]}, "legend": null}}},
{"data": {"name": "b"}, "transform": [{"filter": "datum.p=='B1'"}], "mark": {"type": "point", "shape": "M-1,0L1,0", "size": 169, "stroke": "#2c3b3b", "strokeWidth": 2, "opacity": 1}, "encoding": {"x": {"field": "g", "type": "quantitative"}, "y": {"field": "med", "type": "quantitative"}}},
{"data": {"name": "b"}, "transform": [{"filter": "datum.p=='B1'"}], "mark": {"type": "point", "shape": "M-1,0L1,0", "size": 169, "stroke": "white", "strokeWidth": 2, "strokeDash": [2.5, 1.5], "opacity": 1}, "encoding": {"x": {"field": "g", "type": "quantitative"}, "y": {"field": "med", "type": "quantitative"}}},
{"data": {"values": [{"t": "Age"}]}, "mark": {"type": "text", "fontSize": 10.5, "fontWeight": "bold", "color": "#111"}, "encoding": {"text": {"field": "t"}, "x": {"datum": 1.39}, "y": {"datum": 7.6}}},
{"data": {"values": [{"t": "p = 0.0356"}]}, "mark": {"type": "text", "fontSize": 10, "fontWeight": "bold", "align": "right", "color": "#111"}, "encoding": {"text": {"field": "t"}, "x": {"datum": 2.5}, "y": {"datum": -5.96}}}
]},
{"width": 162, "height": 160, "title": {"text": "B2", "dx": -20}, "resolve": {"scale": {"fill": "independent"}}, "layer": [
{"data": {"name": "v"}, "transform": [{"filter": "datum.p=='B2'"}], "mark": {"type": "area", "orient": "horizontal", "interpolate": "monotone", "stroke": "#2c3b3b", "strokeWidth": 2.2},
 "encoding": {"y": {"field": "y", "type": "quantitative", "scale": {"domain": [-6.5, 8.1], "nice": false, "zero": false}, "axis": {"values": [-6, -4, -2, 0, 2, 4, 6], "tickCount": 20, "labelOverlap": false, "title": null}},
  "x": {"field": "lo", "type": "quantitative", "scale": {"domain": [0.4, 2.6], "nice": false, "zero": false}, "axis": {"values": [1, 2], "tickCount": 20, "labelExpr": "datum.value==1?['N-','(402)']:datum.value==2?['N+','(479)']:''", "title": "(No:)", "titleX": 7, "labelPadding": 1, "labelLineHeight": 11, "titleY": 16.5}},
  "x2": {"field": "hi"},
  "fill": {"field": "g", "type": "nominal", "scale": {"domain": [1, 2], "range": ["#5a9cb3", "#b5461c"]}, "legend": null}}},
{"data": {"name": "b"}, "transform": [{"filter": "datum.p=='B2'"}], "mark": {"type": "rule", "color": "#2c3b3b", "strokeWidth": 1.2}, "encoding": {"x": {"field": "g", "type": "quantitative"}, "y": {"field": "wl", "type": "quantitative"}, "y2": {"field": "wh"}}},
{"data": {"name": "b"}, "transform": [{"filter": "datum.p=='B2'"}], "mark": {"type": "point", "shape": "M-1,0L1,0", "size": 36, "stroke": "#2c3b3b", "strokeWidth": 1.2, "opacity": 1}, "encoding": {"x": {"field": "g", "type": "quantitative"}, "y": {"field": "wh", "type": "quantitative"}}},
{"data": {"name": "b"}, "transform": [{"filter": "datum.p=='B2'"}], "mark": {"type": "point", "shape": "M-1,0L1,0", "size": 36, "stroke": "#2c3b3b", "strokeWidth": 1.2, "opacity": 1}, "encoding": {"x": {"field": "g", "type": "quantitative"}, "y": {"field": "wl", "type": "quantitative"}}},
{"data": {"name": "b"}, "transform": [{"filter": "datum.p=='B2'"}], "mark": {"type": "bar", "size": 18, "stroke": "#3b4848", "strokeWidth": 1.5}, "encoding": {"x": {"field": "g", "type": "quantitative"}, "y": {"field": "q1", "type": "quantitative"}, "y2": {"field": "q3"}, "fill": {"field": "g", "type": "nominal", "scale": {"domain": [1, 2], "range": ["#a9d3de", "#e7b49a"]}, "legend": null}}},
{"data": {"name": "b"}, "transform": [{"filter": "datum.p=='B2'"}], "mark": {"type": "point", "shape": "M-1,0L1,0", "size": 169, "stroke": "#2c3b3b", "strokeWidth": 2, "opacity": 1}, "encoding": {"x": {"field": "g", "type": "quantitative"}, "y": {"field": "med", "type": "quantitative"}}},
{"data": {"name": "b"}, "transform": [{"filter": "datum.p=='B2'"}], "mark": {"type": "point", "shape": "M-1,0L1,0", "size": 169, "stroke": "white", "strokeWidth": 2, "strokeDash": [2.5, 1.5], "opacity": 1}, "encoding": {"x": {"field": "g", "type": "quantitative"}, "y": {"field": "med", "type": "quantitative"}}},
{"data": {"values": [{"t": "Node status"}]}, "mark": {"type": "text", "fontSize": 10.5, "fontWeight": "bold", "color": "#111"}, "encoding": {"text": {"field": "t"}, "x": {"datum": 1.5}, "y": {"datum": 7.06}}},
{"data": {"values": [{"t": "p = 0.0559"}]}, "mark": {"type": "text", "fontSize": 10, "fontWeight": "bold", "align": "right", "color": "#111"}, "encoding": {"text": {"field": "t"}, "x": {"datum": 2.47}, "y": {"datum": -5.75}}}
]},
{"width": 159, "height": 160, "title": {"text": "B3", "dx": -20}, "resolve": {"scale": {"fill": "independent"}}, "layer": [
{"data": {"name": "v"}, "transform": [{"filter": "datum.p=='B3'"}], "mark": {"type": "area", "orient": "horizontal", "interpolate": "monotone", "stroke": "#2c3b3b", "strokeWidth": 2.2},
 "encoding": {"y": {"field": "y", "type": "quantitative", "scale": {"domain": [-6.3, 8.8], "nice": false, "zero": false}, "axis": {"values": [-6, -4, -2, 0, 2, 4, 6, 8], "tickCount": 20, "labelOverlap": false, "title": null}},
  "x": {"field": "lo", "type": "quantitative", "scale": {"domain": [0.4, 2.6], "nice": false, "zero": false}, "axis": {"values": [1, 2], "tickCount": 20, "labelExpr": "datum.value==1?['Wild type','(699)']:datum.value==2?['Mutated','(328)']:''", "title": "(No:)", "titleX": 3.5, "labelPadding": 1, "labelLineHeight": 11, "titleY": 16.5}},
  "x2": {"field": "hi"},
  "fill": {"field": "g", "type": "nominal", "scale": {"domain": [1, 2], "range": ["#5a9cb3", "#b5461c"]}, "legend": null}}},
{"data": {"name": "b"}, "transform": [{"filter": "datum.p=='B3'"}], "mark": {"type": "rule", "color": "#2c3b3b", "strokeWidth": 1.2}, "encoding": {"x": {"field": "g", "type": "quantitative"}, "y": {"field": "wl", "type": "quantitative"}, "y2": {"field": "wh"}}},
{"data": {"name": "b"}, "transform": [{"filter": "datum.p=='B3'"}], "mark": {"type": "point", "shape": "M-1,0L1,0", "size": 36, "stroke": "#2c3b3b", "strokeWidth": 1.2, "opacity": 1}, "encoding": {"x": {"field": "g", "type": "quantitative"}, "y": {"field": "wh", "type": "quantitative"}}},
{"data": {"name": "b"}, "transform": [{"filter": "datum.p=='B3'"}], "mark": {"type": "point", "shape": "M-1,0L1,0", "size": 36, "stroke": "#2c3b3b", "strokeWidth": 1.2, "opacity": 1}, "encoding": {"x": {"field": "g", "type": "quantitative"}, "y": {"field": "wl", "type": "quantitative"}}},
{"data": {"name": "b"}, "transform": [{"filter": "datum.p=='B3'"}], "mark": {"type": "bar", "size": 18, "stroke": "#3b4848", "strokeWidth": 1.5}, "encoding": {"x": {"field": "g", "type": "quantitative"}, "y": {"field": "q1", "type": "quantitative"}, "y2": {"field": "q3"}, "fill": {"field": "g", "type": "nominal", "scale": {"domain": [1, 2], "range": ["#a9d3de", "#e7b49a"]}, "legend": null}}},
{"data": {"name": "b"}, "transform": [{"filter": "datum.p=='B3'"}], "mark": {"type": "point", "shape": "M-1,0L1,0", "size": 169, "stroke": "#2c3b3b", "strokeWidth": 2, "opacity": 1}, "encoding": {"x": {"field": "g", "type": "quantitative"}, "y": {"field": "med", "type": "quantitative"}}},
{"data": {"name": "b"}, "transform": [{"filter": "datum.p=='B3'"}], "mark": {"type": "point", "shape": "M-1,0L1,0", "size": 169, "stroke": "white", "strokeWidth": 2, "strokeDash": [2.5, 1.5], "opacity": 1}, "encoding": {"x": {"field": "g", "type": "quantitative"}, "y": {"field": "med", "type": "quantitative"}}},
{"data": {"values": [{"t": "P53 status"}]}, "mark": {"type": "text", "fontSize": 10.5, "fontWeight": "bold", "color": "#111"}, "encoding": {"text": {"field": "t"}, "x": {"datum": 1.58}, "y": {"datum": 8.0}}},
{"data": {"values": [{"t": "p < 0.0001"}]}, "mark": {"type": "text", "fontSize": 10, "fontWeight": "bold", "align": "right", "color": "#111"}, "encoding": {"text": {"field": "t"}, "x": {"datum": 2.48}, "y": {"datum": -5.7}}}
]},
{"width": 161, "height": 160, "title": {"text": "B4", "dx": -23}, "resolve": {"scale": {"fill": "independent"}}, "layer": [
{"data": {"name": "v"}, "transform": [{"filter": "datum.p=='B4'"}], "mark": {"type": "area", "orient": "horizontal", "interpolate": "monotone", "stroke": "#2c3b3b", "strokeWidth": 2.2},
 "encoding": {"y": {"field": "y", "type": "quantitative", "scale": {"domain": [-7.7, 8.6], "nice": false, "zero": false}, "axis": {"values": [-5, 0, 5], "tickCount": 20, "labelOverlap": false, "title": null}},
  "x": {"field": "lo", "type": "quantitative", "scale": {"domain": [0.3, 5.7], "nice": false, "zero": false}, "axis": {"values": [1, 2, 3, 4, 5], "tickCount": 20, "labelExpr": "datum.value==1?['IDC','(745)']:datum.value==2?['IDC&ILC','(29)']:datum.value==3?['ILC','(196)']:datum.value==4?['M','(0)']:datum.value==5?['Mucinous','(17)']:''", "title": "(No:)", "titleX": -2, "labelPadding": 1, "labelLineHeight": 11, "titleY": 16.5}},
  "x2": {"field": "hi"},
  "fill": {"field": "g", "type": "nominal", "scale": {"domain": [1, 2, 3, 5], "range": ["#5a9cb3", "#b5461c", "#a3b51d", "#9d479c"]}, "legend": null}}},
{"data": {"name": "b"}, "transform": [{"filter": "datum.p=='B4'"}], "mark": {"type": "rule", "color": "#2c3b3b", "strokeWidth": 1.2}, "encoding": {"x": {"field": "g", "type": "quantitative"}, "y": {"field": "wl", "type": "quantitative"}, "y2": {"field": "wh"}}},
{"data": {"name": "b"}, "transform": [{"filter": "datum.p=='B4'"}], "mark": {"type": "point", "shape": "M-1,0L1,0", "size": 36, "stroke": "#2c3b3b", "strokeWidth": 1.2, "opacity": 1}, "encoding": {"x": {"field": "g", "type": "quantitative"}, "y": {"field": "wh", "type": "quantitative"}}},
{"data": {"name": "b"}, "transform": [{"filter": "datum.p=='B4'"}], "mark": {"type": "point", "shape": "M-1,0L1,0", "size": 36, "stroke": "#2c3b3b", "strokeWidth": 1.2, "opacity": 1}, "encoding": {"x": {"field": "g", "type": "quantitative"}, "y": {"field": "wl", "type": "quantitative"}}},
{"data": {"name": "b"}, "transform": [{"filter": "datum.p=='B4'"}], "mark": {"type": "bar", "size": 9, "stroke": "#3b4848", "strokeWidth": 1.3}, "encoding": {"x": {"field": "g", "type": "quantitative"}, "y": {"field": "q1", "type": "quantitative"}, "y2": {"field": "q3"}, "fill": {"field": "g", "type": "nominal", "scale": {"domain": [1, 2, 3, 5], "range": ["#a9d3de", "#e7b49a", "#e3e59a", "#d6a6d6"]}, "legend": null}}},
{"data": {"name": "b"}, "transform": [{"filter": "datum.p=='B4'"}], "mark": {"type": "point", "shape": "M-1,0L1,0", "size": 36, "stroke": "white", "strokeWidth": 2, "opacity": 1}, "encoding": {"x": {"field": "g", "type": "quantitative"}, "y": {"field": "med", "type": "quantitative"}}},
{"data": {"values": [{"t": "Histology"}]}, "mark": {"type": "text", "fontSize": 10.5, "fontWeight": "bold", "color": "#111"}, "encoding": {"text": {"field": "t"}, "x": {"datum": 2.96}, "y": {"datum": 7.7}}},
{"data": {"values": [{"t": "p < 0.0001"}]}, "mark": {"type": "text", "fontSize": 10, "fontWeight": "bold", "align": "right", "color": "#111"}, "encoding": {"text": {"field": "t"}, "x": {"datum": 4.83}, "y": {"datum": -6.9}}}
]}
]}
]},
{"bounds": "flush", "spacing": 28, "resolve": {"scale": {"fill": "independent"}}, "hconcat": [
{"width": 156, "height": 157, "title": {"text": "C1", "dx": -28, "offset": 0.6}, "resolve": {"scale": {"fill": "independent"}}, "layer": [
{"data": {"name": "v"}, "transform": [{"filter": "datum.p=='C1'"}], "mark": {"type": "area", "orient": "horizontal", "interpolate": "monotone", "stroke": "#2c3b3b", "strokeWidth": 2.2},
 "encoding": {"y": {"field": "y", "type": "quantitative", "scale": {"domain": [-6.8, 8.35], "nice": false, "zero": false}, "axis": {"values": [-6, -4, -2, 0, 2, 4, 6, 8], "tickCount": 20, "labelOverlap": false, "title": "TDO2 mRNA level", "titleX": -12, "titleY": 84, "titleBaseline": "middle"}},
  "x": {"field": "lo", "type": "quantitative", "scale": {"domain": [0.4, 2.6], "nice": false, "zero": false}, "axis": {"values": [1, 2], "tickCount": 20, "labelExpr": "datum.value==1?['TNBC','(111)']:datum.value==2?['Not TNBC','(810)']:''", "title": "(No:)", "titleX": -7, "labelPadding": 2, "labelLineHeight": 10, "titleY": 16}},
  "x2": {"field": "hi"},
  "fill": {"field": "g", "type": "nominal", "scale": {"domain": [1, 2], "range": ["#5a9cb3", "#b5461c"]}, "legend": null}}},
{"data": {"name": "b"}, "transform": [{"filter": "datum.p=='C1'"}], "mark": {"type": "rule", "color": "#2c3b3b", "strokeWidth": 1.2}, "encoding": {"x": {"field": "g", "type": "quantitative"}, "y": {"field": "wl", "type": "quantitative"}, "y2": {"field": "wh"}}},
{"data": {"name": "b"}, "transform": [{"filter": "datum.p=='C1'"}], "mark": {"type": "point", "shape": "M-1,0L1,0", "size": 36, "stroke": "#2c3b3b", "strokeWidth": 1.2, "opacity": 1}, "encoding": {"x": {"field": "g", "type": "quantitative"}, "y": {"field": "wh", "type": "quantitative"}}},
{"data": {"name": "b"}, "transform": [{"filter": "datum.p=='C1'"}], "mark": {"type": "point", "shape": "M-1,0L1,0", "size": 36, "stroke": "#2c3b3b", "strokeWidth": 1.2, "opacity": 1}, "encoding": {"x": {"field": "g", "type": "quantitative"}, "y": {"field": "wl", "type": "quantitative"}}},
{"data": {"name": "b"}, "transform": [{"filter": "datum.p=='C1'"}], "mark": {"type": "bar", "size": 18, "stroke": "#3b4848", "strokeWidth": 1.5}, "encoding": {"x": {"field": "g", "type": "quantitative"}, "y": {"field": "q1", "type": "quantitative"}, "y2": {"field": "q3"}, "fill": {"field": "g", "type": "nominal", "scale": {"domain": [1, 2], "range": ["#a9d3de", "#e7b49a"]}, "legend": null}}},
{"data": {"name": "b"}, "transform": [{"filter": "datum.p=='C1'"}], "mark": {"type": "point", "shape": "M-1,0L1,0", "size": 169, "stroke": "#2c3b3b", "strokeWidth": 2, "opacity": 1}, "encoding": {"x": {"field": "g", "type": "quantitative"}, "y": {"field": "med", "type": "quantitative"}}},
{"data": {"name": "b"}, "transform": [{"filter": "datum.p=='C1'"}], "mark": {"type": "point", "shape": "M-1,0L1,0", "size": 169, "stroke": "white", "strokeWidth": 2, "strokeDash": [2.5, 1.5], "opacity": 1}, "encoding": {"x": {"field": "g", "type": "quantitative"}, "y": {"field": "med", "type": "quantitative"}}},
{"data": {"values": [{"t": "TNBC"}]}, "mark": {"type": "text", "fontSize": 10.5, "fontWeight": "bold", "color": "#111"}, "encoding": {"text": {"field": "t"}, "x": {"datum": 1.48}, "y": {"datum": 7.6}}},
{"data": {"values": [{"t": "p < 0.0001"}]}, "mark": {"type": "text", "fontSize": 10, "fontWeight": "bold", "align": "right", "color": "#111"}, "encoding": {"text": {"field": "t"}, "x": {"datum": 2.55}, "y": {"datum": -6.15}}}
]},
{"width": 159, "height": 157, "title": {"text": "C2", "dx": -23, "offset": 0.6}, "resolve": {"scale": {"fill": "independent"}}, "layer": [
{"data": {"name": "v"}, "transform": [{"filter": "datum.p=='C2'"}], "mark": {"type": "area", "orient": "horizontal", "interpolate": "monotone", "stroke": "#2c3b3b", "strokeWidth": 2.2},
 "encoding": {"y": {"field": "y", "type": "quantitative", "scale": {"domain": [-6.8, 8.35], "nice": false, "zero": false}, "axis": {"values": [-6, -4, -2, 0, 2, 4, 6, 8], "tickCount": 20, "labelOverlap": false, "title": null}},
  "x": {"field": "lo", "type": "quantitative", "scale": {"domain": [0.4, 2.6], "nice": false, "zero": false}, "axis": {"values": [1, 2], "tickCount": 20, "labelExpr": "datum.value==1?['Basal-like & TNBC','(90)']:datum.value==2?['Not basal-like','(778)']:''", "labelFontSize": 8.5, "labelOffset": {"condition": {"test": "datum.value == 1", "value": -3}, "value": 6}, "title": "(No:)", "titleX": 0, "labelPadding": 2, "labelLineHeight": 10, "titleY": 16}},
  "x2": {"field": "hi"},
  "fill": {"field": "g", "type": "nominal", "scale": {"domain": [1, 2], "range": ["#5a9cb3", "#b5461c"]}, "legend": null}}},
{"data": {"name": "b"}, "transform": [{"filter": "datum.p=='C2'"}], "mark": {"type": "rule", "color": "#2c3b3b", "strokeWidth": 1.2}, "encoding": {"x": {"field": "g", "type": "quantitative"}, "y": {"field": "wl", "type": "quantitative"}, "y2": {"field": "wh"}}},
{"data": {"name": "b"}, "transform": [{"filter": "datum.p=='C2'"}], "mark": {"type": "point", "shape": "M-1,0L1,0", "size": 36, "stroke": "#2c3b3b", "strokeWidth": 1.2, "opacity": 1}, "encoding": {"x": {"field": "g", "type": "quantitative"}, "y": {"field": "wh", "type": "quantitative"}}},
{"data": {"name": "b"}, "transform": [{"filter": "datum.p=='C2'"}], "mark": {"type": "point", "shape": "M-1,0L1,0", "size": 36, "stroke": "#2c3b3b", "strokeWidth": 1.2, "opacity": 1}, "encoding": {"x": {"field": "g", "type": "quantitative"}, "y": {"field": "wl", "type": "quantitative"}}},
{"data": {"name": "b"}, "transform": [{"filter": "datum.p=='C2'"}], "mark": {"type": "bar", "size": 18, "stroke": "#3b4848", "strokeWidth": 1.5}, "encoding": {"x": {"field": "g", "type": "quantitative"}, "y": {"field": "q1", "type": "quantitative"}, "y2": {"field": "q3"}, "fill": {"field": "g", "type": "nominal", "scale": {"domain": [1, 2], "range": ["#a9d3de", "#e7b49a"]}, "legend": null}}},
{"data": {"name": "b"}, "transform": [{"filter": "datum.p=='C2'"}], "mark": {"type": "point", "shape": "M-1,0L1,0", "size": 169, "stroke": "#2c3b3b", "strokeWidth": 2, "opacity": 1}, "encoding": {"x": {"field": "g", "type": "quantitative"}, "y": {"field": "med", "type": "quantitative"}}},
{"data": {"name": "b"}, "transform": [{"filter": "datum.p=='C2'"}], "mark": {"type": "point", "shape": "M-1,0L1,0", "size": 169, "stroke": "white", "strokeWidth": 2, "strokeDash": [2.5, 1.5], "opacity": 1}, "encoding": {"x": {"field": "g", "type": "quantitative"}, "y": {"field": "med", "type": "quantitative"}}},
{"data": {"values": [{"t": "Basal-like & TNBC"}]}, "mark": {"type": "text", "fontSize": 10.5, "fontWeight": "bold", "color": "#111"}, "encoding": {"text": {"field": "t"}, "x": {"datum": 1.4}, "y": {"datum": 7.6}}},
{"data": {"values": [{"t": "p < 0.0001"}]}, "mark": {"type": "text", "fontSize": 10, "fontWeight": "bold", "align": "right", "color": "#111"}, "encoding": {"text": {"field": "t"}, "x": {"datum": 2.48}, "y": {"datum": -5.85}}}
]},
{"width": 350, "height": 157, "title": {"text": "C3", "dx": -19, "offset": -11}, "resolve": {"scale": {"fill": "independent"}}, "layer": [
{"data": {"name": "v"}, "transform": [{"filter": "datum.p=='C3'"}], "mark": {"type": "area", "orient": "horizontal", "interpolate": "monotone", "stroke": "#2c3b3b", "strokeWidth": 2.2},
 "encoding": {"y": {"field": "y", "type": "quantitative", "scale": {"domain": [-7.2, 9.1], "nice": false, "zero": false}, "axis": {"values": [-5, 0, 5], "tickCount": 20, "labelOverlap": false, "title": null}},
  "x": {"field": "lo", "type": "quantitative", "scale": {"domain": [0.25, 5.75], "nice": false, "zero": false}, "axis": {"values": [1, 2, 3, 4, 5], "tickCount": 20, "labelExpr": "datum.value==1?['Basal-like','(168)']:datum.value==2?['HER2-E','(65)']:datum.value==3?['Luminal A','(361)']:datum.value==4?['Luminal B','(433)']:datum.value==5?['Normal-like','(0)']:''", "title": "(No:)", "titleX": 1, "labelPadding": 2, "labelLineHeight": 10, "titleY": 16}},
  "x2": {"field": "hi"},
  "fill": {"field": "g", "type": "nominal", "scale": {"domain": [1, 2, 3, 4], "range": ["#b51f1f", "#56268b", "#1f1b50", "#92bce0"]}, "legend": null}}},
{"data": {"name": "b"}, "transform": [{"filter": "datum.p=='C3'"}], "mark": {"type": "rule", "color": "#2c3b3b", "strokeWidth": 1.2}, "encoding": {"x": {"field": "g", "type": "quantitative"}, "y": {"field": "wl", "type": "quantitative"}, "y2": {"field": "wh"}}},
{"data": {"name": "b"}, "transform": [{"filter": "datum.p=='C3'"}], "mark": {"type": "bar", "size": 16, "stroke": "#3b4848", "strokeWidth": 1.5}, "encoding": {"x": {"field": "g", "type": "quantitative"}, "y": {"field": "q1", "type": "quantitative"}, "y2": {"field": "q3"}, "fill": {"field": "g", "type": "nominal", "scale": {"domain": [1, 2, 3, 4], "range": ["#dc8a8a", "#b89cd4", "#8e88cc", "#d5e5f3"]}, "legend": null}}},
{"data": {"name": "b"}, "transform": [{"filter": "datum.p=='C3'"}], "mark": {"type": "point", "shape": "M-1,0L1,0", "size": 144, "stroke": "#2c3b3b", "strokeWidth": 2, "opacity": 1}, "encoding": {"x": {"field": "g", "type": "quantitative"}, "y": {"field": "med", "type": "quantitative"}}},
{"data": {"name": "b"}, "transform": [{"filter": "datum.p=='C3'"}], "mark": {"type": "point", "shape": "M-1,0L1,0", "size": 144, "stroke": "white", "strokeWidth": 2, "strokeDash": [2.5, 1.5], "opacity": 1}, "encoding": {"x": {"field": "g", "type": "quantitative"}, "y": {"field": "med", "type": "quantitative"}}},
{"data": {"values": [{"t": "PAM50"}]}, "mark": {"type": "text", "fontSize": 10.5, "fontWeight": "bold", "color": "#111"}, "encoding": {"text": {"field": "t"}, "x": {"datum": 2.79}, "y": {"datum": 8.3}}},
{"data": {"values": [{"t": "A1"}]}, "mark": {"type": "text", "fontSize": 10.5, "fontWeight": "bold", "color": "#111"}, "encoding": {"text": {"field": "t"}, "x": {"datum": 2.79}, "y": {"datum": 9.85}}},
{"data": {"values": [{"t": "p < 0.0001"}]}, "mark": {"type": "text", "fontSize": 10, "fontWeight": "bold", "align": "right", "color": "#111"}, "encoding": {"text": {"field": "t"}, "x": {"datum": 5.55}, "y": {"datum": -5.85}}}
]}
]}
],
"config": {
 "font": "Liberation Sans",
 "view": {"stroke": "#333333", "strokeWidth": 1.3},
 "axis": {"grid": false, "domain": false, "labelFont": "Liberation Sans", "labelFontWeight": "bold", "labelColor": "#1a1a1a", "titleFont": "Liberation Sans", "titleColor": "#1a1a1a"},
 "axisX": {"ticks": false, "labelFontSize": 9, "labelPadding": 4, "labelLineHeight": 13.5, "labelFlush": false, "labelOverlap": false, "titleFontSize": 9, "titleFontWeight": "bold", "titleAlign": "center", "titleBaseline": "middle", "titleY": 22.5},
 "axisY": {"tickSize": 3, "tickColor": "#333333", "labelFontSize": 9.5, "labelPadding": 1, "labelOverlap": false, "titleFontSize": 11, "titleFontWeight": "normal", "titleFontStyle": "italic", "titleAlign": "center"},
 "title": {"anchor": "start", "frame": "group", "fontSize": 15, "fontWeight": "bold", "baseline": "bottom", "offset": 2, "color": "#111111"}
}
}
